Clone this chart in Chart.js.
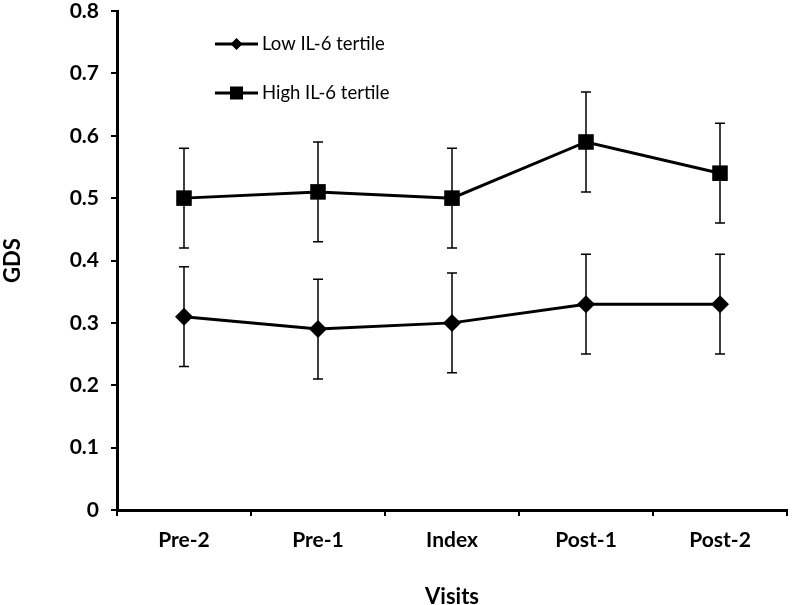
<!DOCTYPE html>
<html>
<head>
<meta charset="utf-8">
<script src="https://cdn.jsdelivr.net/npm/chart.js@4/dist/chart.umd.min.js"></script>
<style>
html,body{margin:0;padding:0;background:#fff;}
#wrap{width:798px;height:605px;position:relative;}
</style>
</head>
<body>
<div id="wrap"><canvas id="c" width="798" height="605"></canvas></div>
<script>
const categories = ["Pre-2", "Pre-1", "Index", "Post-1", "Post-2"];
const lowLabel = "Low IL-6 tertile";
const highLabel = "High IL-6 tertile";
const lowValues = [0.31, 0.29, 0.30, 0.33, 0.33];
const lowErrors = [0.08, 0.08, 0.08, 0.08, 0.08];
const highValues = [0.50, 0.51, 0.50, 0.59, 0.54];
const highErrors = [0.08, 0.08, 0.08, 0.08, 0.08];
const yTicks = [0, 0.1, 0.2, 0.3, 0.4, 0.5, 0.6, 0.7, 0.8];

const FONT = "Lato, 'Open Sans', sans-serif";

const errorBars = {
  id: 'errorBars',
  beforeDatasetsDraw(chart) {
    const ctx = chart.ctx;
    const y = chart.scales.y;
    ctx.save();
    ctx.strokeStyle = '#000';
    ctx.lineWidth = 1.5;
    chart.data.datasets.forEach((ds, di) => {
      const meta = chart.getDatasetMeta(di);
      meta.data.forEach((pt, i) => {
        const e = ds.errors[i];
        const v = ds.data[i];
        const x = pt.x;
        const yt = y.getPixelForValue(v + e);
        const yb = y.getPixelForValue(v - e);
        ctx.beginPath();
        ctx.moveTo(x, yt); ctx.lineTo(x, yb);
        ctx.moveTo(x - 5, yt); ctx.lineTo(x + 5, yt);
        ctx.moveTo(x - 5, yb); ctx.lineTo(x + 5, yb);
        ctx.stroke();
      });
    });
    ctx.restore();
  }
};

const customLegend = {
  id: 'customLegend',
  afterDraw(chart) {
    const ctx = chart.ctx;
    ctx.save();
    const items = [{y: 44}, {y: 93}];
    chart.data.datasets.forEach((ds, i) => {
      const yy = items[i].y;
      ctx.strokeStyle = '#000';
      ctx.lineWidth = 3;
      ctx.beginPath();
      ctx.moveTo(215, yy); ctx.lineTo(258, yy);
      ctx.stroke();
      ctx.fillStyle = '#000';
      ctx.beginPath();
      if (ds.pointStyle === 'rectRot') {
        const r = 6;
        ctx.moveTo(236.5, yy - r); ctx.lineTo(236.5 + r, yy); ctx.lineTo(236.5, yy + r); ctx.lineTo(236.5 - r, yy);
        ctx.closePath();
      } else {
        ctx.rect(230, yy - 6.5, 13, 13);
      }
      ctx.fill();
      ctx.font = "18.5px " + FONT;
      ctx.textBaseline = 'middle';
      ctx.textAlign = 'left';
      ctx.fillText(ds.label, 262, yy);
    });
    ctx.restore();
  }
};

new Chart(document.getElementById('c'), {
  type: 'line',
  data: {
    labels: categories,
    datasets: [
      {
        label: lowLabel, data: lowValues, errors: lowErrors,
        borderColor: '#000', backgroundColor: '#000', borderWidth: 3,
        pointStyle: 'rectRot', pointRadius: 9, pointHoverRadius: 9,
        pointBorderWidth: 0, tension: 0
      },
      {
        label: highLabel, data: highValues, errors: highErrors,
        borderColor: '#000', backgroundColor: '#000', borderWidth: 3,
        pointStyle: 'rect', pointRadius: 11, pointHoverRadius: 11,
        pointBorderWidth: 0, tension: 0
      }
    ]
  },
  options: {
    responsive: false,
    animation: false,
    devicePixelRatio: 1,
    layout: { padding: { top: 3, right: 0, left: 0, bottom: 0 } },
    plugins: { legend: { display: false }, tooltip: { enabled: false } },
    scales: {
      x: {
        offset: true,
        grid: { display: true, drawOnChartArea: false, drawTicks: true, tickLength: 6, color: '#000', lineWidth: 2, offset: true },
        border: { display: true, color: '#000', width: 3 },
        ticks: { color: '#000', font: { family: FONT, size: 21, weight: 'bold' }, padding: 12 },
        title: { display: true, text: 'Visits', color: '#000', font: { family: FONT, size: 22, weight: 'bold' }, padding: { top: 20, bottom: -5 } },
        afterFit(s) { s.height = 95; s.paddingLeft = 0; s.paddingRight = 0; }
      },
      y: {
        min: 0, max: 0.8,
        afterBuildTicks(s) { s.ticks = yTicks.map(v => ({ value: v })); },
        grid: { display: true, drawOnChartArea: false, drawTicks: true, tickLength: 6, color: '#000', lineWidth: 2 },
        border: { display: true, color: '#000', width: 3 },
        ticks: { color: '#000', font: { family: FONT, size: 21, weight: 'bold' }, padding: 12,
          callback: v => (v === 0 ? '0' : v.toFixed(1)) },
        title: { display: true, text: 'GDS', color: '#000', font: { family: FONT, size: 22, weight: 'bold' }, padding: { top: 0, bottom: 10 } },
        afterFit(s) { s.width = 117; s.paddingTop = 0; s.paddingBottom = 0; }
      }
    }
  },
  plugins: [errorBars, customLegend]
});
</script>
</body>
</html>
